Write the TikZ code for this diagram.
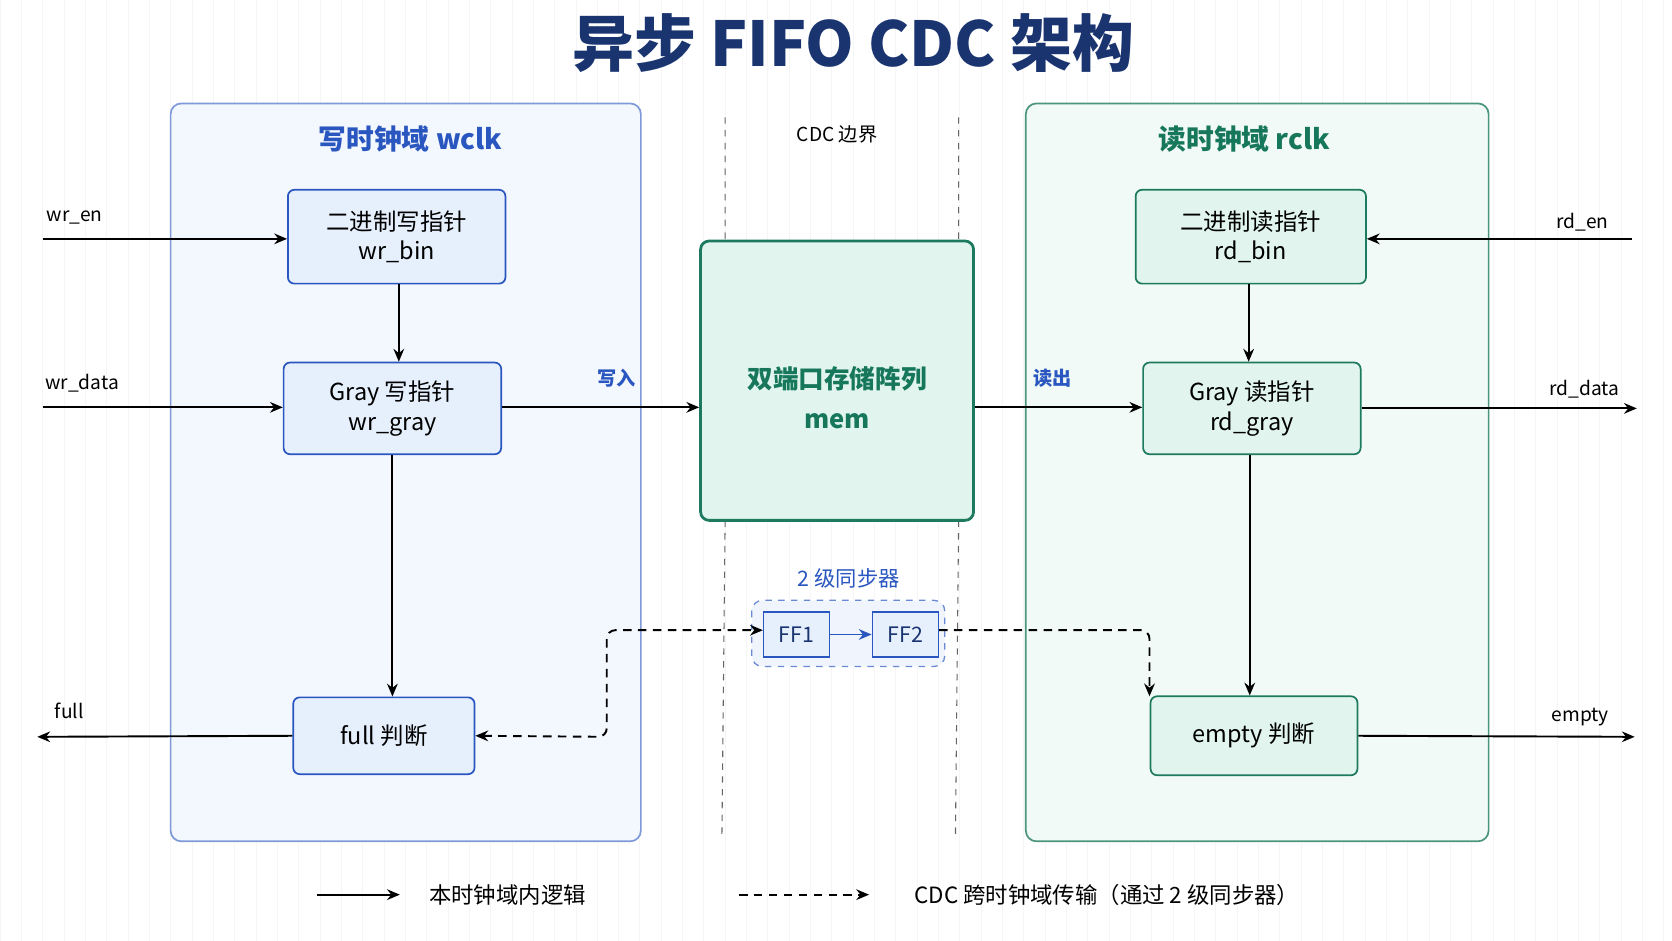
\documentclass[tikz,border=0pt]{standalone}
\usepackage{fontspec}
\setmainfont{Noto Sans CJK SC}
\usetikzlibrary{arrows.meta}
\definecolor{navy}{HTML}{1A3470}
\definecolor{bblue}{HTML}{2A56C0}
\definecolor{bfill}{HTML}{E6EFFC}
\definecolor{dfill}{HTML}{F3F7FE}
\definecolor{gbord}{HTML}{1E7A5E}
\definecolor{gfill}{HTML}{E1F5EE}
\definecolor{dgfill}{HTML}{F1FAF6}
\definecolor{gtext}{HTML}{17775A}
\tikzset{
 bbox/.style={draw=bblue,fill=bfill,rounded corners=3pt,line width=0.8pt,align=center,font=\fontsize{11}{14}\selectfont,text=black},
 gbox/.style={draw=gbord,fill=gfill,rounded corners=3pt,line width=0.8pt,align=center,font=\fontsize{11}{14}\selectfont,text=black},
 arr/.style={-{Stealth[length=6pt,width=5pt]},line width=0.9pt},
 darr/.style={arr,dashed,dash pattern=on 4pt off 3pt},
 lbl/.style={font=\fontsize{9}{11}\selectfont},
}
\begin{document}
\begin{tikzpicture}[x=0.5pt,y=-0.5pt]
\useasboundingbox (0,0) rectangle (1568,882);
\fill[white] (0,0) rectangle (1568,882);
\draw[black!4,line width=0.3pt] (0,0) grid[step=20] (1568,882);
\node[font=\fontsize{29}{32}\selectfont\bfseries,text=navy] (title) at (800,40) {异步 FIFO CDC 架构};
% domains
\draw[bblue!60,fill=dfill,rounded corners=5pt,line width=0.8pt] (160,97) rectangle (601,789);
\draw[gbord!80,fill=dgfill,rounded corners=5pt,line width=0.8pt] (962,97) rectangle (1396,789);
\node[font=\fontsize{13}{15}\selectfont\bfseries,text=bblue] (wt) at (385,130) {写时钟域 wclk};
\node[font=\fontsize{13}{15}\selectfont\bfseries,text=gtext] (rt) at (1167,130) {读时钟域 rclk};
% cdc lines
\draw[dashed,black!60,line width=0.5pt] (680,110) -- (680,226) (680,488) -- (677,785);
\draw[dashed,black!60,line width=0.5pt] (899,110) -- (899,226) (899,488) -- (896,785);
\node[lbl] (cdc) at (785,126) {CDC 边界};
% boxes
\node[bbox,minimum width=102pt,minimum height=44pt] (wbin) at (372,222) {二进制写指针\\wr\_bin};
\node[bbox,minimum width=102pt,minimum height=43pt] (wgray) at (368,383) {Gray 写指针\\wr\_gray};
\node[bbox,minimum width=85pt,minimum height=36pt] (full) at (360,690) {full 判断};
\node[draw=gbord,fill=gfill,rounded corners=4pt,line width=1.3pt,minimum width=128pt,minimum height=131pt,text=gtext,font=\fontsize{12}{18}\selectfont\bfseries] (mem) at (785,357) {};
\node[text=gtext,font=\fontsize{12}{18}\selectfont\bfseries,align=center] (memt) at (785,373) {双端口存储阵列\\[1pt]mem};
\node[gbox,minimum width=108pt,minimum height=44pt] (rbin) at (1173,222) {二进制读指针\\rd\_bin};
\node[gbox,minimum width=102pt,minimum height=43pt] (rgray) at (1174,383) {Gray 读指针\\rd\_gray};
\node[gbox,minimum width=97pt,minimum height=37pt] (empty) at (1176,690) {empty 判断};
% sync
\draw[bblue!70,dashed,fill=bfill!60,rounded corners=5pt,line width=0.6pt] (705,563) rectangle (886,625);
\node[font=\fontsize{10}{12}\selectfont,text=bblue] (sl) at (796,542) {2 级同步器};
\node[draw=bblue,fill=bfill,line width=0.6pt,minimum width=31pt,minimum height=21pt,font=\fontsize{10}{12}\selectfont,text=navy] (ff1) at (747,595) {FF1};
\node[draw=bblue,fill=bfill,line width=0.6pt,minimum width=31pt,minimum height=21pt,font=\fontsize{10}{12}\selectfont,text=navy] (ff2) at (849,595) {FF2};
\draw[arr,bblue] (ff1) -- (ff2);
% external coords
\coordinate (wen) at (40,224); \coordinate (wdata) at (40,382); \coordinate (fo) at (35,691);
\coordinate (ren) at (1530,224); \coordinate (rdo) at (1535,383); \coordinate (eo) at (1533,691);
\draw[arr] (wen) -- (wbin.west|-wen); \node[lbl] (l1) at (70,204) {wr\_en};
\draw[arr] (wdata) -- (wgray.west|-wdata); \node[lbl] (l2) at (77,359) {wr\_data};
\draw[arr] (wbin.south-|374,0) -- (wgray.north-|374,0);
\draw[arr] (wgray.east|-0,382) -- (mem.west|-0,382); \node[font=\fontsize{9}{11}\selectfont\bfseries,text=bblue] (l3) at (578,355) {写入};
\draw[arr] (wgray.south-|368,0) -- (full.north-|368,0);
\draw[arr] (full.west) -- (fo); \node[lbl] (l4) at (65,667) {full};
\draw[arr] (mem.east|-0,382) -- (rgray.west|-0,382); \node[font=\fontsize{9}{11}\selectfont\bfseries,text=bblue] (l5) at (987,355) {读出};
\draw[arr] (ren) -- (rbin.east|-ren); \node[lbl] (l6) at (1484,208) {rd\_en};
\draw[arr] (rbin.south-|1171,0) -- (rgray.north-|1171,0);
\draw[arr] (rgray.east|-rdo) -- (rdo); \node[lbl] (l7) at (1486,365) {rd\_data};
\draw[arr] (rgray.south-|1172,0) -- (empty.north-|1172,0);
\draw[arr] (empty.east) -- (eo); \node[lbl] (l8) at (1482,672) {empty};
% dashed cdc
\draw[darr,{Stealth[length=6pt,width=5pt]}-{Stealth[length=6pt,width=5pt]},rounded corners=4pt] (full.east) -- (569,691) -- (569,591) -- (ff1.west|-0,591);
\draw[darr,rounded corners=4pt] (ff2.east|-0,591) -- (1078,591) -- (1078,653);
% legend
\coordinate (a1) at (297,839); \coordinate (a2) at (375,839);
\coordinate (b1) at (693,839); \coordinate (b2) at (815,839);
\draw[arr] (a1) -- (a2); \node[font=\fontsize{10.5}{12}\selectfont] (t1) at (476,839) {本时钟域内逻辑};
\draw[darr] (b1) -- (b2); \node[font=\fontsize{10.5}{12}\selectfont] (t2) at (1038,839) {CDC 跨时钟域传输（通过 2 级同步器）};
\end{tikzpicture}
\end{document}
